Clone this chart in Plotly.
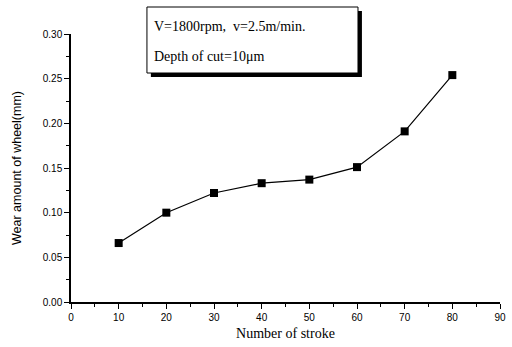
import plotly.graph_objects as go

strokes = [10, 20, 30, 40, 50, 60, 70, 80]
wear = [0.066, 0.100, 0.122, 0.133, 0.137, 0.151, 0.191, 0.254]
x_ticks = [0, 10, 20, 30, 40, 50, 60, 70, 80, 90]
y_ticks = [0.00, 0.05, 0.10, 0.15, 0.20, 0.25, 0.30]
y_tick_labels = ["0.00", "0.05", "0.10", "0.15", "0.20", "0.25", "0.30"]

L, R, T, B = 71, 6, 34, 45
W, H = 512, 347
pw, ph = W - L - R, H - T - B

def px(x):
    return (x - L) / pw

def py(y):
    return (H - B - y) / ph

fig = go.Figure()
fig.add_trace(go.Scatter(
    x=strokes, y=wear, mode="lines+markers",
    line=dict(color="black", width=1.2),
    marker=dict(symbol="square", size=8, color="black"),
    showlegend=False,
))

sans = "Liberation Sans, Arial, sans-serif"
serif = "Liberation Serif, Times New Roman, serif"

fig.update_layout(
    width=W, height=H,
    margin=dict(l=L, r=R, t=T, b=B),
    paper_bgcolor="white", plot_bgcolor="white",
    xaxis=dict(
        range=[0, 90], tickvals=x_ticks, ticks="outside", ticklen=5, tickwidth=1.2,
        tickcolor="black", showline=True, linecolor="black", linewidth=1.5,
        showgrid=False, zeroline=False,
        tickfont=dict(family=sans, size=10, color="black"),
        minor=dict(tickvals=[5, 15, 25, 35, 45, 55, 65, 75, 85], ticks="outside", ticklen=3, tickcolor="black"),
        title=dict(text="Number of stroke", font=dict(family=serif, size=14, color="black"), standoff=6),
    ),
    yaxis=dict(
        range=[0, 0.30], tickvals=y_ticks, ticktext=y_tick_labels, ticks="outside", ticklen=5,
        tickwidth=1.2, tickcolor="black", showline=True, linecolor="black", linewidth=1.5,
        showgrid=False, zeroline=False,
        tickfont=dict(family=sans, size=10, color="black"),
        minor=dict(tickvals=[0.025, 0.075, 0.125, 0.175, 0.225, 0.275], ticks="outside", ticklen=3, tickcolor="black"),
        title=dict(text="Wear amount of wheel(mm)", font=dict(family=sans, size=12.5, color="black"), standoff=18),
    ),
)

# Text box with drop shadow
bx0, bx1, by0, by1 = 148, 362, 7, 73
fig.add_shape(type="rect", xref="paper", yref="paper",
              x0=px(bx0 + 4), x1=px(bx1 + 4), y0=py(by1 + 4), y1=py(by0 + 4),
              line=dict(width=0), fillcolor="black", layer="above")
fig.add_shape(type="rect", xref="paper", yref="paper",
              x0=px(bx0), x1=px(bx1), y0=py(by1), y1=py(by0),
              line=dict(width=1, color="black"), fillcolor="white", layer="above")
fig.add_annotation(xref="paper", yref="paper", x=px(153), y=py(27), xanchor="left", yanchor="middle",
                   text="V=1800rpm,  v=2.5m/min.", showarrow=False,
                   font=dict(family=serif, size=14, color="black"))
fig.add_annotation(xref="paper", yref="paper", x=px(153), y=py(57), xanchor="left", yanchor="middle",
                   text="Depth of cut=10μm", showarrow=False,
                   font=dict(family=serif, size=14, color="black"))

fig.write_html("out.html")
